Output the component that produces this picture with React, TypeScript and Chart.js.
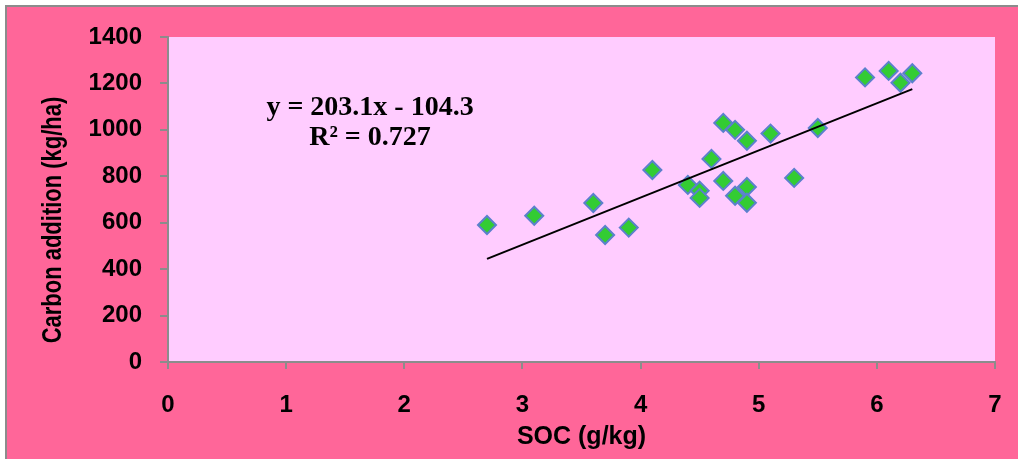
import React, { useEffect, useRef } from "react";
import { Chart, registerables } from "chart.js";

Chart.register(...registerables);

const socValues = [2.7, 3.1, 3.6, 3.7, 3.9, 4.1, 4.4, 4.5, 4.5, 4.6, 4.7, 4.7, 4.8, 4.8, 4.9, 4.9, 4.9, 5.1, 5.3, 5.5, 5.9, 6.1, 6.2, 6.3];
const carbonValues = [590, 630, 685, 547, 579, 827, 763, 738, 707, 875, 1030, 780, 1000, 716, 953, 754, 686, 984, 793, 1008, 1226, 1254, 1203, 1244];

const trendSlope = 203.1;
const trendIntercept = -104.3;
const trendXRange = [2.7, 6.3];
const equationLines = ["y = 203.1x - 104.3", "R² = 0.727"];
const equationPos = { x: 1.71, y: [1094, 965] };

const xTitle = "SOC (g/kg)";
const yTitle = "Carbon addition (kg/ha)";

const PINK = "#FF6699";
const PLOT_BG = "#FFCCFF";
const GRAY = "#8C8C8C";

const bgPlugin = {
  id: "bgPlugin",
  beforeDraw(chart: any) {
    const { ctx, width, height, chartArea } = chart;
    ctx.save();
    ctx.fillStyle = "#FFFFFF";
    ctx.fillRect(0, 0, width, height);
    ctx.fillStyle = PINK;
    ctx.fillRect(7, 7, width - 7, height - 7);
    ctx.fillStyle = GRAY;
    ctx.fillRect(5, 5, 2, height - 5);
    ctx.fillRect(5, 5, width - 5, 2);
    ctx.fillStyle = PLOT_BG;
    ctx.fillRect(chartArea.left, chartArea.top, chartArea.right - chartArea.left, chartArea.bottom - chartArea.top);
    ctx.restore();
  },
  afterDraw(chart: any) {
    const { ctx, scales } = chart;
    ctx.save();
    ctx.fillStyle = "#000000";
    ctx.font = "bold 28px 'Liberation Serif', 'Times New Roman', serif";
    ctx.textAlign = "center";
    ctx.textBaseline = "middle";
    const px = scales.x.getPixelForValue(equationPos.x);
    equationLines.forEach((line, i) => {
      ctx.fillText(line, px, scales.y.getPixelForValue(equationPos.y[i]));
    });
    ctx.restore();

    // y-axis title, condensed like the original
    ctx.save();
    ctx.fillStyle = "#000000";
    ctx.font = "bold 28px 'Liberation Sans', Arial, sans-serif";
    ctx.textAlign = "center";
    ctx.textBaseline = "middle";
    ctx.translate(53, 220);
    ctx.rotate(-Math.PI / 2);
    ctx.scale(0.785, 1);
    ctx.fillText(yTitle, 0, 0);
    ctx.restore();
  },
};

export default function App() {
  const ref = useRef<HTMLCanvasElement | null>(null);
  useEffect(() => {
    if (!ref.current) return;
    const tickFont = { family: "'Liberation Sans', Arial, sans-serif", size: 24, weight: "bold" as const };
    const chart = new Chart(ref.current, {
      type: "scatter",
      data: {
        datasets: [
          {
            type: "line",
            data: trendXRange.map((x) => ({ x, y: trendSlope * x + trendIntercept })),
            borderColor: "#000000",
            borderWidth: 2,
            pointRadius: 0,
            fill: false,
          } as any,
          {
            data: socValues.map((x, i) => ({ x, y: carbonValues[i] })),
            pointStyle: "rectRot",
            pointRadius: 9,
            pointBackgroundColor: "#33CC33",
            pointBorderColor: "#5B80CC",
            pointBorderWidth: 2,
            backgroundColor: "#33CC33",
            borderColor: "#5B80CC",
          },
        ],
      },
      options: {
        animation: false,
        responsive: false,
        devicePixelRatio: 1,
        layout: { autoPadding: false, padding: { top: 37, right: 23, left: 0, bottom: 0 } },
        plugins: { legend: { display: false }, tooltip: { enabled: false } },
        scales: {
          x: {
            type: "linear",
            min: 0,
            max: 7,
            ticks: { stepSize: 1, color: "#000", font: tickFont, padding: 22, callback: (v: any) => String(v) },
            grid: { drawOnChartArea: false, color: GRAY, lineWidth: 2, tickLength: 7 },
            border: { color: GRAY, width: 2 },
            title: {
              display: true,
              text: xTitle,
              color: "#000",
              font: { family: "'Liberation Sans', Arial, sans-serif", size: 25, weight: "bold" },
              padding: { top: 0, bottom: 7 },
            },
            afterFit(scale: any) {
              scale.height = 97;
              scale.paddingLeft = 0;
              scale.paddingRight = 0;
            },
          },
          y: {
            type: "linear",
            min: 0,
            max: 1400,
            ticks: { stepSize: 200, color: "#000", font: tickFont, padding: 18, callback: (v: any) => String(v) },
            grid: { drawOnChartArea: false, color: GRAY, lineWidth: 2, tickLength: 8 },
            border: { color: GRAY, width: 2 },
            title: { display: false, text: yTitle },
            afterFit(scale: any) {
              scale.width = 168;
              scale.paddingTop = 0;
              scale.paddingBottom = 0;
            },
          },
        },
      },
      plugins: [bgPlugin],
    });
    return () => chart.destroy();
  }, []);
  return (
    <div style={{ position: "fixed", left: 0, top: 0, width: 1018, height: 459, background: "#fff" }}>
      <canvas ref={ref} width={1018} height={459} style={{ width: 1018, height: 459, display: "block" }} />
    </div>
  );
}
